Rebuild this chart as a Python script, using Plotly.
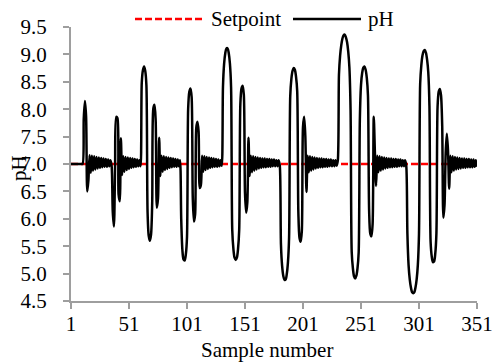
import plotly.graph_objects as go

# ---------------- data ----------------
setpoint_value = 7.0

ph_flat_start = [7.00] * 11  # samples 1-11

ph_event1 = [7.83, 8.15, 7.87, 6.50, 6.70]
ph_band1 = [7.16, 6.84, 7.15, 6.88, 7.14, 6.90, 7.13, 6.92, 7.12, 6.93,
            7.11, 6.94, 7.10, 6.95, 7.09, 6.95, 7.08, 6.96, 7.07, 6.97]
ph_event2 = [6.13, 5.86, 6.95, 7.86, 7.84, 6.45, 6.32, 7.47]
ph_band2 = [6.80, 7.14, 6.86, 7.13, 6.89, 7.12, 6.91, 7.11, 6.93, 7.10,
            6.94, 7.09, 6.95, 7.08, 6.96, 7.07, 6.96]
ph_event3 = [8.48, 8.71, 8.78, 8.70, 8.44, 6.13, 5.69, 5.60, 5.71, 6.29,
             8.02, 8.08, 7.79, 6.20, 6.37, 7.48]
ph_band3 = [6.78, 7.15, 6.86, 7.14, 6.89, 7.13, 6.91, 7.12, 6.93, 7.11,
            6.94, 7.10, 6.95, 7.09, 6.95, 7.08, 6.96, 7.07]
ph_event4 = [6.01, 5.44, 5.26, 5.24, 5.35, 5.67, 8.01, 8.32, 8.38, 8.22,
             6.37, 5.95, 6.08, 7.66, 7.77, 7.59, 6.56, 6.62]
ph_band4 = [7.15, 6.86, 7.14, 6.89, 7.13, 6.91, 7.12, 6.93, 7.11, 6.94,
            7.10, 6.95, 7.09, 6.95, 7.08, 6.96, 7.07, 6.97]
ph_event5 = [8.40, 8.83, 9.02, 9.11, 9.11, 9.02, 8.83, 8.40, 5.80, 5.45,
             5.29, 5.25, 5.29, 5.45, 5.80, 8.10, 8.38, 8.43, 8.26, 6.47,
             6.11, 6.30, 7.48]
ph_band5 = [6.78, 7.15, 6.85, 7.14, 6.88, 7.13, 6.90, 7.12, 6.92, 7.11,
            6.93, 7.10, 6.94, 7.10, 6.94, 7.09, 6.95, 7.09, 6.95, 7.08,
            6.96, 7.08, 6.96, 7.07, 6.96, 7.07, 6.97]
ph_event6 = [5.53, 5.14, 4.96, 4.89, 4.89, 4.99, 5.20, 5.66, 8.24, 8.56,
             8.70, 8.75, 8.72, 8.59, 8.33, 6.11, 5.65, 5.58, 5.78, 7.68,
             7.86, 7.51, 6.49]
ph_band6 = [7.15, 6.85, 7.14, 6.88, 7.13, 6.90, 7.12, 6.92, 7.11, 6.93,
            7.10, 6.94, 7.10, 6.94, 7.09, 6.95, 7.09, 6.95, 7.08, 6.96,
            7.08, 6.96, 7.07, 6.96, 7.07, 6.97, 7.06]
ph_event7 = [8.63, 8.98, 9.17, 9.29, 9.35, 9.36, 9.31, 9.22, 9.05, 8.76,
             7.99, 5.39, 5.10, 4.95, 4.91, 4.96, 5.10, 5.39, 7.80, 8.44,
             8.66, 8.76, 8.78, 8.72, 8.57, 8.25, 6.15, 5.73, 5.68, 5.90,
             7.86, 7.20, 6.60]
ph_band7 = [7.15, 6.85, 7.14, 6.88, 7.13, 6.90, 7.12, 6.92, 7.11, 6.93,
            7.10, 6.94, 7.10, 6.94, 7.09, 6.95, 7.09, 6.95, 7.08, 6.96,
            7.08, 6.96, 7.07, 6.96, 7.07, 6.97]
ph_event8 = [5.73, 5.16, 4.90, 4.75, 4.66, 4.64, 4.66, 4.75, 4.90, 5.16,
             5.73, 8.46, 8.80, 8.98, 9.06, 9.08, 9.03, 8.90, 8.67, 8.06,
             5.58, 5.31, 5.21, 5.22, 5.36, 5.73, 8.04, 8.32, 8.37, 8.25,
             7.70, 6.02, 6.25, 7.20, 7.55, 7.25, 6.55]
ph_band8 = [7.15, 6.85, 7.14, 6.88, 7.13, 6.90, 7.12, 6.91, 7.11, 6.92,
            7.10, 6.93, 7.10, 6.93, 7.09, 6.94, 7.09, 6.94, 7.08, 6.94,
            7.08, 6.95, 7.07, 6.95]

x_tick_values = [1, 51, 101, 151, 201, 251, 301, 351]
y_tick_values = [4.5, 5.0, 5.5, 6.0, 6.5, 7.0, 7.5, 8.0, 8.5, 9.0, 9.5]

series_names = ["Setpoint", "pH"]
x_title = "Sample number"
y_title = "pH"

ph = (ph_flat_start + ph_event1 + ph_band1 + ph_event2 + ph_band2 + ph_event3
      + ph_band3 + ph_event4 + ph_band4 + ph_event5 + ph_band5 + ph_event6
      + ph_band6 + ph_event7 + ph_band7 + ph_event8 + ph_band8)
samples = list(range(1, len(ph) + 1))
setpoint = [setpoint_value] * len(ph)

# ---------------- figure ----------------
W, H = 493, 364
ML, MR, MT, MB = 71, 16, 27, 63
PW, PH_ = W - ML - MR, H - MT - MB


def px(xp):
    return (xp - ML) / PW


def py(yp):
    return (H - MB - yp) / PH_


FONT = "Liberation Serif"
AXC = "#9E9E9E"

fig = go.Figure()
fig.add_trace(go.Scatter(x=samples, y=setpoint, mode="lines", name=series_names[0],
                         line=dict(color="#FF0000", width=2.5, dash="7px,3px"),
                         showlegend=False))
fig.add_trace(go.Scatter(x=samples, y=ph, mode="lines", name=series_names[1],
                         line=dict(color="black", width=2.5, shape="spline", smoothing=0.8),
                         showlegend=False))

axis_common = dict(showgrid=False, zeroline=False, showline=True, linecolor=AXC,
                   linewidth=2, ticks="outside", ticklen=6, tickwidth=2, tickcolor=AXC,
                   automargin=False,
                   tickfont=dict(family=FONT, size=21, color="black"))

fig.update_xaxes(range=[1, 351], tickmode="array", tickvals=x_tick_values,
                 ticklabelstandoff=-3, **axis_common)
fig.update_yaxes(range=[4.5, 9.5], tickmode="array", tickvals=y_tick_values,
                 tickformat=".1f", ticklabelstandoff=12, **axis_common)

# custom legend (line samples + labels)
shapes = [
    dict(type="line", xref="paper", yref="paper", x0=px(135), x1=px(205), y0=py(19), y1=py(19),
         line=dict(color="#FF0000", width=2.5, dash="7px,3px")),
    dict(type="line", xref="paper", yref="paper", x0=px(293), x1=px(361), y0=py(19), y1=py(19),
         line=dict(color="black", width=2.5)),
]
annotations = [
    dict(text=series_names[0], xref="paper", yref="paper", x=px(209), y=py(19.5),
         xanchor="left", yanchor="middle", showarrow=False,
         font=dict(family=FONT, size=21, color="black")),
    dict(text=series_names[1], xref="paper", yref="paper", x=px(366), y=py(19.5),
         xanchor="left", yanchor="middle", showarrow=False,
         font=dict(family=FONT, size=21, color="black")),
    dict(text=x_title, xref="paper", yref="paper", x=px(267), y=py(350),
         xanchor="center", yanchor="middle", showarrow=False,
         font=dict(family=FONT, size=21, color="black")),
    dict(text=y_title, xref="paper", yref="paper", x=px(19), y=py(168), textangle=-90,
         xanchor="center", yanchor="middle", showarrow=False,
         font=dict(family=FONT, size=21, color="black")),
]

fig.update_layout(width=W, height=H, margin=dict(l=ML, r=MR, t=MT, b=MB, pad=0, autoexpand=False),
                  paper_bgcolor="white", plot_bgcolor="white",
                  font=dict(family=FONT, size=21, color="black"),
                  shapes=shapes, annotations=annotations, showlegend=False)

fig.write_html("out.html")
